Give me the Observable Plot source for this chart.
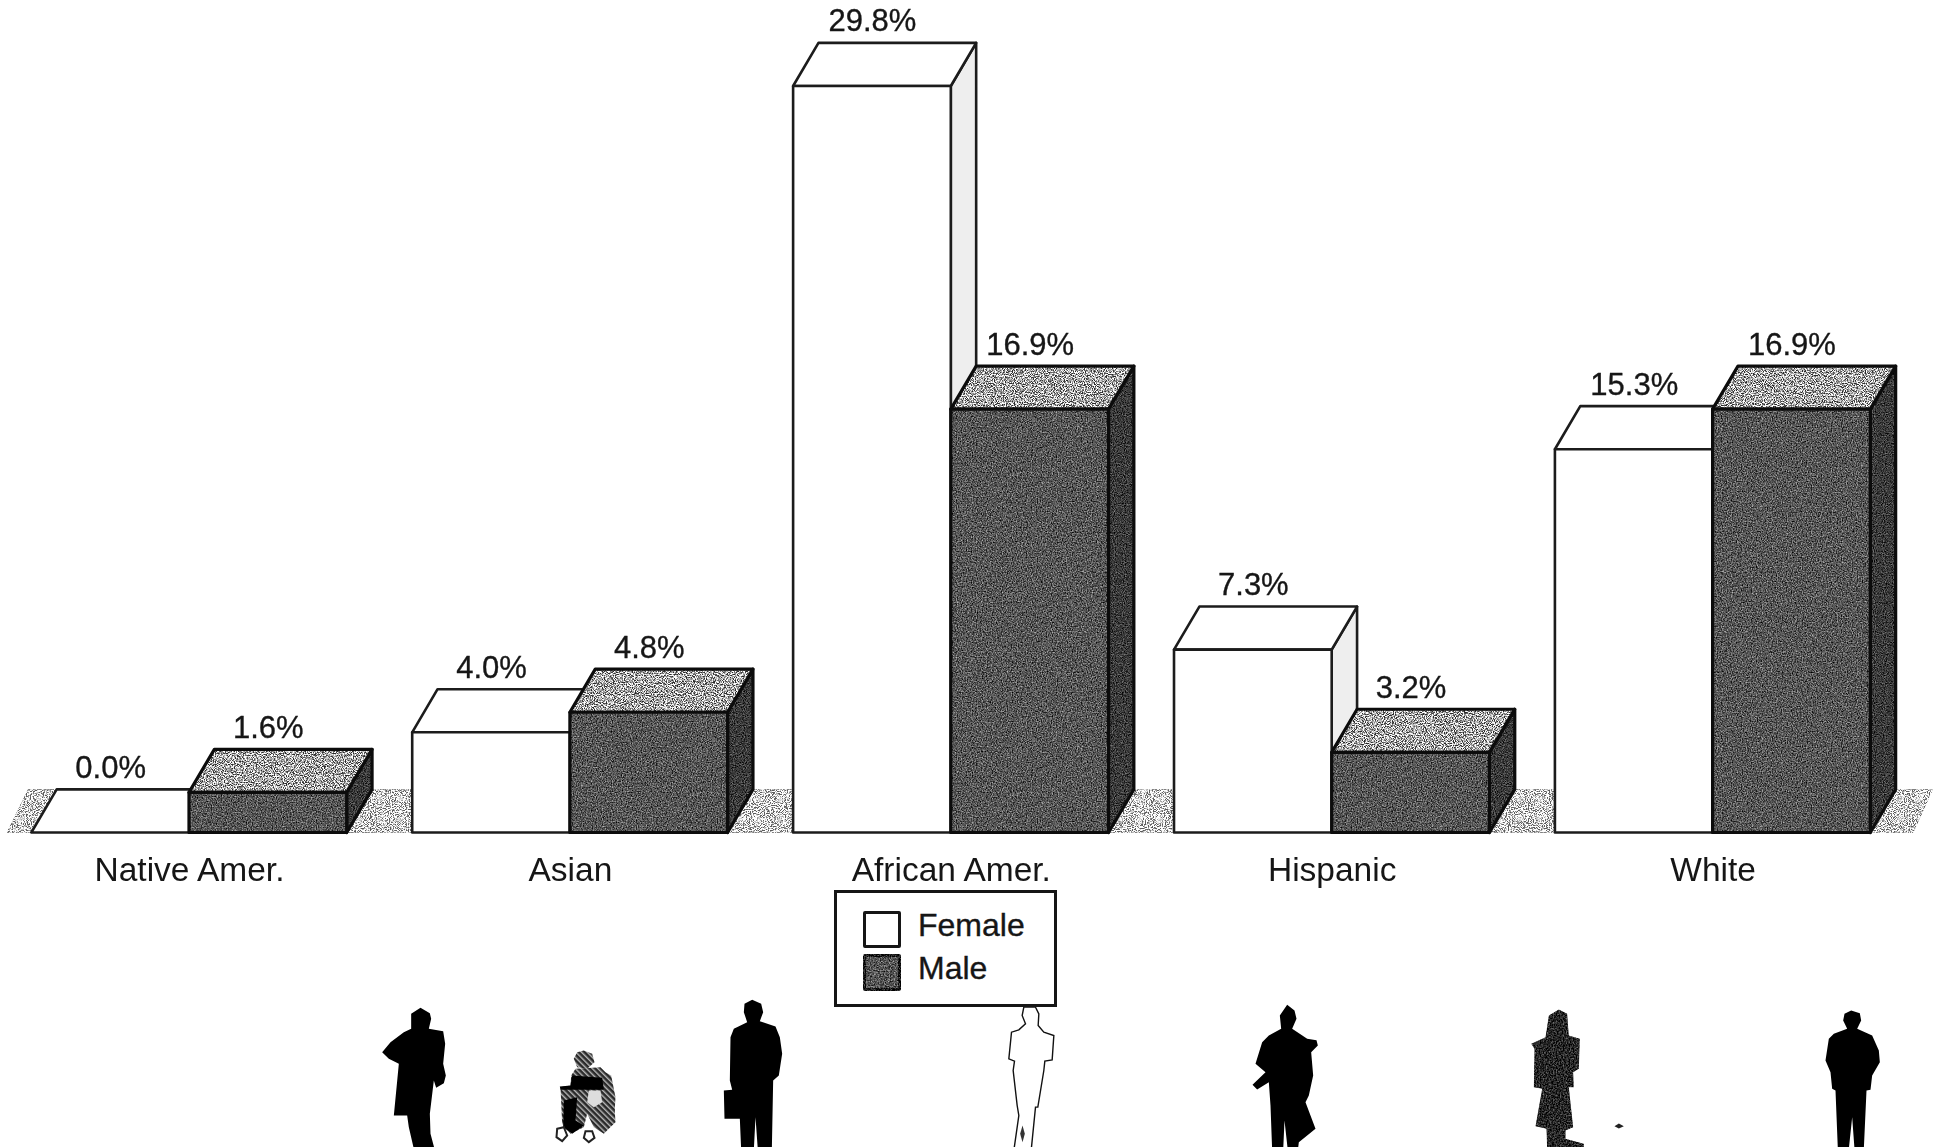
<!DOCTYPE html>
<html><head><meta charset="utf-8">
<script src="https://cdn.jsdelivr.net/npm/d3@7"></script>
<script src="https://cdn.jsdelivr.net/npm/@observablehq/plot@0.6"></script>
<style>
html,body{margin:0;background:#fff;overflow:hidden}
#wrap{position:relative;width:1938px;height:1147px;font-family:"Liberation Sans",Arial,sans-serif;color:#161616}
#chart svg{display:block;filter:blur(.6px)}
#legend{position:absolute;left:834px;top:890px;width:217px;height:111px;border:3px solid #161616;background:#fff;font-size:32px;-webkit-text-stroke:.35px #161616}
.sw{position:absolute;left:26px;width:32px;height:31px;border:3px solid #161616;border-radius:2px}
.lb{position:absolute;left:81px;line-height:36px}
</style></head><body>
<div id="wrap"><div id="chart"></div>
<div id="legend">
<div class="sw" style="top:18px;background:#fff"></div><div class="lb" style="top:14px">Female</div>
<div class="sw" style="top:61px;background:#555;filter:url(#grainFront)"></div><div class="lb" style="top:57px">Male</div>
</div></div>
<script>
const categories = ["Native Amer.", "Asian", "African Amer.", "Hispanic", "White"];
const female = [0.0, 4.0, 29.8, 7.3, 15.3];
const male = [1.6, 4.8, 16.9, 3.2, 16.9];

// Pseudo-3D extrusion, in data units
const W = 0.414, DX = 0.0666, DY = 1.72;
const rows = (vals, sex) => vals.map((v, i) => sex === "F"
  ? {id: sex + i, x0: i - W, x1: i, v}
  : {id: sex + i, x0: i, x1: i + W, v});
const fRows = rows(female, "F"), mRows = rows(male, "M");
const topPts = R => R.flatMap(d => [
  {z: d.id, y: d.v, a: d.x0, b: d.x1},
  {z: d.id, y: d.v + DY, a: d.x0 + DX, b: d.x1 + DX}]);
const sidePts = R => R.flatMap(d => [
  {z: d.id, x: d.x1, a: 0, b: d.v},
  {z: d.id, x: d.x1 + DX, a: DY, b: d.v + DY}]);

function face(fn, data, opts, fill, filter, stroke, sw) {
  return [
    fn(data, {...opts, fill, imageFilter: filter ? `url(#${filter})` : undefined}),
    fn(data, {...opts, fill: "none", stroke, strokeWidth: sw, strokeLinejoin: "round"})
  ];
}
const top3 = {x1: "a", x2: "b", y: "y", z: "z"};
const side3 = {x: "x", y1: "a", y2: "b", z: "z"};
const front3 = {x1: "x0", x2: "x1", y1: d => 0, y2: "v"};
const bar3d = (R, cols, filters, stroke, sw) => [
  face(Plot.areaY, sidePts(R), side3, cols[0], filters[0], stroke, sw),
  face(Plot.areaX, topPts(R), top3, cols[1], filters[1], stroke, sw),
  face(Plot.rect, R, front3, cols[2], filters[2], stroke, sw)
];

function grain(id, freq, contrast, seed) {
  const b = 0.5 - contrast * 0.5;
  return `<filter id="${id}" x="0" y="0" width="100%" height="100%" color-interpolation-filters="sRGB">
  <feTurbulence type="fractalNoise" baseFrequency="${freq}" numOctaves="2" seed="${seed}" result="n"/>
  <feColorMatrix in="n" type="matrix" values="${contrast} 0 0 0 ${b} ${contrast} 0 0 0 ${b} ${contrast} 0 0 0 ${b} 0 0 0 0 1" result="g"/>
  <feComposite in="SourceGraphic" in2="g" operator="arithmetic" k1="0" k2="1" k3="1" k4="-0.5" result="m"/>
  <feComposite in="m" in2="SourceAlpha" operator="in"/></filter>`;
}
const defs = () => {
  const g = document.createElementNS("http://www.w3.org/2000/svg", "defs");
  g.innerHTML = grain("grainFront", 0.8, 1.05, 3) + grain("grainTop", 0.9, 3.0, 7)
    + grain("grainSide", 0.9, 0.8, 5) + grain("grainLight", 1.0, 2.2, 9)
    + grain("grainFloor", 0.95, 3.6, 11) + grain("grainFig", 0.7, 0.9, 13)
    + `<pattern id="hatch" width="4" height="4" patternUnits="userSpaceOnUse" patternTransform="rotate(45)"><rect width="4" height="4" fill="#bbb"/><rect width="4" height="2.6" fill="#2a2a2a"/></pattern>`;
  return g;
};

// Decorative silhouettes: outlines in the crop's 3x units, placed by frame offset
const outline = pts => ({draw(ctx) {
  d3.line().curve(d3.curveLinearClosed).context(ctx)(pts.map(([x, y]) => [x / 3, y / 3]));
}});
const figure = (pts, px, py, o = {}) => Plot.dot([0], {
  frameAnchor: "top-left", dx: px, dy: py, symbol: outline(pts), fill: "#000", ...o
});
const womanCoat = [[150,22],[178,38],[182,55],[175,85],[218,92],[224,130],[218,190],[226,225],[220,248],[197,262],[190,240],[178,340],[180,400],[192,445],[130,445],[115,380],[110,345],[70,345],[85,190],[55,175],[35,155],[60,125],[100,95],[122,85],[122,40]];
const chairBody = [[615,205],[690,200],[705,215],[722,225],[735,290],[730,370],[700,400],[670,380],[650,340],[640,380],[600,400],[575,370],[570,260],[600,255],[602,225]];
const chairHead = [[640,150],[665,160],[672,185],[650,205],[620,200],[610,175],[620,155]];
const chairSeat = [[605,225],[695,232],[700,268],[570,268],[568,258],[600,255]];
const chairLeg = [[580,300],[620,290],[615,360],[640,375],[605,400],[578,380]];
const chairRim = [[690,280],[730,290],[735,365],[700,395],[668,372],[690,340]];
const chairFront1 = [[560,385],[580,380],[590,405],[575,422],[558,410]];
const chairFront2 = [[645,392],[665,392],[672,412],[655,425],[640,412]];
const chairLight = [[655,270],[690,270],[695,305],[670,320],[650,305]];
const manCase = [[125,28],[152,40],[158,65],[148,92],[195,108],[208,140],[215,190],[205,255],[188,270],[184,478],[142,478],[135,380],[130,478],[92,478],[88,385],[42,385],[40,300],[65,298],[58,270],[60,140],[70,115],[110,95],[100,65],[102,40]];
const womanLine = [[940,50],[935,75],[945,100],[925,118],[903,125],[895,205],[912,212],[908,240],[920,345],[925,375],[910,480],[962,480],[975,350],[982,350],[1000,240],[1003,212],[1025,208],[1030,135],[1000,125],[983,105],[985,70],[975,50]];
const lineMark = [[936,405],[943,430],[936,455],[929,430]];
const manTube = [[140,28],[162,45],[168,70],[155,100],[200,130],[228,134],[232,150],[212,170],[218,240],[205,300],[195,320],[225,400],[175,440],[172,465],[142,465],[132,375],[128,465],[95,465],[90,330],[85,260],[50,282],[36,268],[75,230],[45,205],[65,140],[85,120],[122,100],[118,60]];
const womanGrain = [[955,42],[980,55],[985,120],[1018,130],[1015,220],[998,230],[1000,275],[985,275],[998,395],[975,405],[975,430],[1030,445],[1030,465],[920,465],[918,400],[885,392],[905,280],[880,275],[882,160],[872,145],[915,125],[925,60]];
const speck = [[1122,392],[1135,384],[1150,392],[1135,399]];
const manBack = [[122,30],[148,38],[152,60],[140,85],[185,105],[205,150],[208,185],[185,225],[180,268],[168,270],[160,445],[132,445],[125,350],[115,445],[82,445],[75,270],[65,265],[60,215],[45,180],[55,115],[70,100],[110,85],[98,60],[102,40]];

const floorPts = [
  {z: "floor", y: 0, a: -0.478, b: 4.527},
  {z: "floor", y: DY, a: -0.423, b: 4.578}];
const labelRows = [...fRows, ...mRows];

const chart = Plot.plot({
  width: 1938, height: 1147,
  marginTop: 0, marginRight: 0, marginLeft: 0, marginBottom: 314.5,
  x: {domain: [-189 / 380.9, (1938 - 189) / 380.9], axis: null},
  y: {domain: [0, 832.5 / 25.05], axis: null},
  style: {background: "#fff", fontFamily: '"Liberation Sans",Arial,sans-serif', overflow: "hidden"},
  marks: [
    defs,
    Plot.areaX(floorPts, {...top3, fill: "#dadada", imageFilter: "url(#grainFloor)"}),
    bar3d(fRows, ["#eeeeee", "#fff", "#fff"], ["grainLight", null, null], "#1c1c1c", 2.6),
    bar3d(mRows, ["#3a3a3a", "#a8a8a8", "#565656"], ["grainSide", "grainTop", "grainFront"], "#0c0c0c", 3.2),
    Plot.text(labelRows, {
      x: d => (d.x0 + d.x1) / 2, y: d => d.v + DY,
      text: d => d.v.toFixed(1) + "%",
      dy: -12, lineAnchor: "bottom", fontSize: 31, fill: "#161616", stroke: "#161616", strokeWidth: 0.35
    }),
    Plot.axisX(d3.range(categories.length), {
      tickFormat: i => categories[i], tickSize: 0, tickPadding: 24,
      fontSize: 33.5, label: null, fill: "#161616", stroke: "#161616", strokeWidth: 0.35
    }),
    figure(womanCoat, 370, 1000),
    figure(chairBody, 370, 1000, {fill: "url(#hatch)"}),
    figure(chairHead, 370, 1000, {fill: "url(#hatch)"}),
    figure(chairSeat, 370, 1000),
    figure(chairLeg, 370, 1000),
    figure(chairRim, 370, 1000, {fill: "url(#hatch)"}),
    figure(chairLight, 370, 1000, {fill: "#ddd"}),
    figure(chairFront1, 370, 1000, {fill: "#fff", stroke: "#222", strokeWidth: 2}),
    figure(chairFront2, 370, 1000, {fill: "#fff", stroke: "#222", strokeWidth: 2}),
    figure(manCase, 710, 990),
    figure(womanLine, 710, 990, {fill: "#fff", stroke: "#111", strokeWidth: 1.4}),
    figure(lineMark, 710, 990, {fill: "#333"}),
    figure(manTube, 1240, 995),
    figure(womanGrain, 1240, 995, {fill: "#262626", imageFilter: "url(#grainFig)"}),
    figure(speck, 1240, 995, {fill: "#222"}),
    figure(manBack, 1810, 1000)
  ]
});
document.getElementById("chart").append(chart);
</script></body></html>
